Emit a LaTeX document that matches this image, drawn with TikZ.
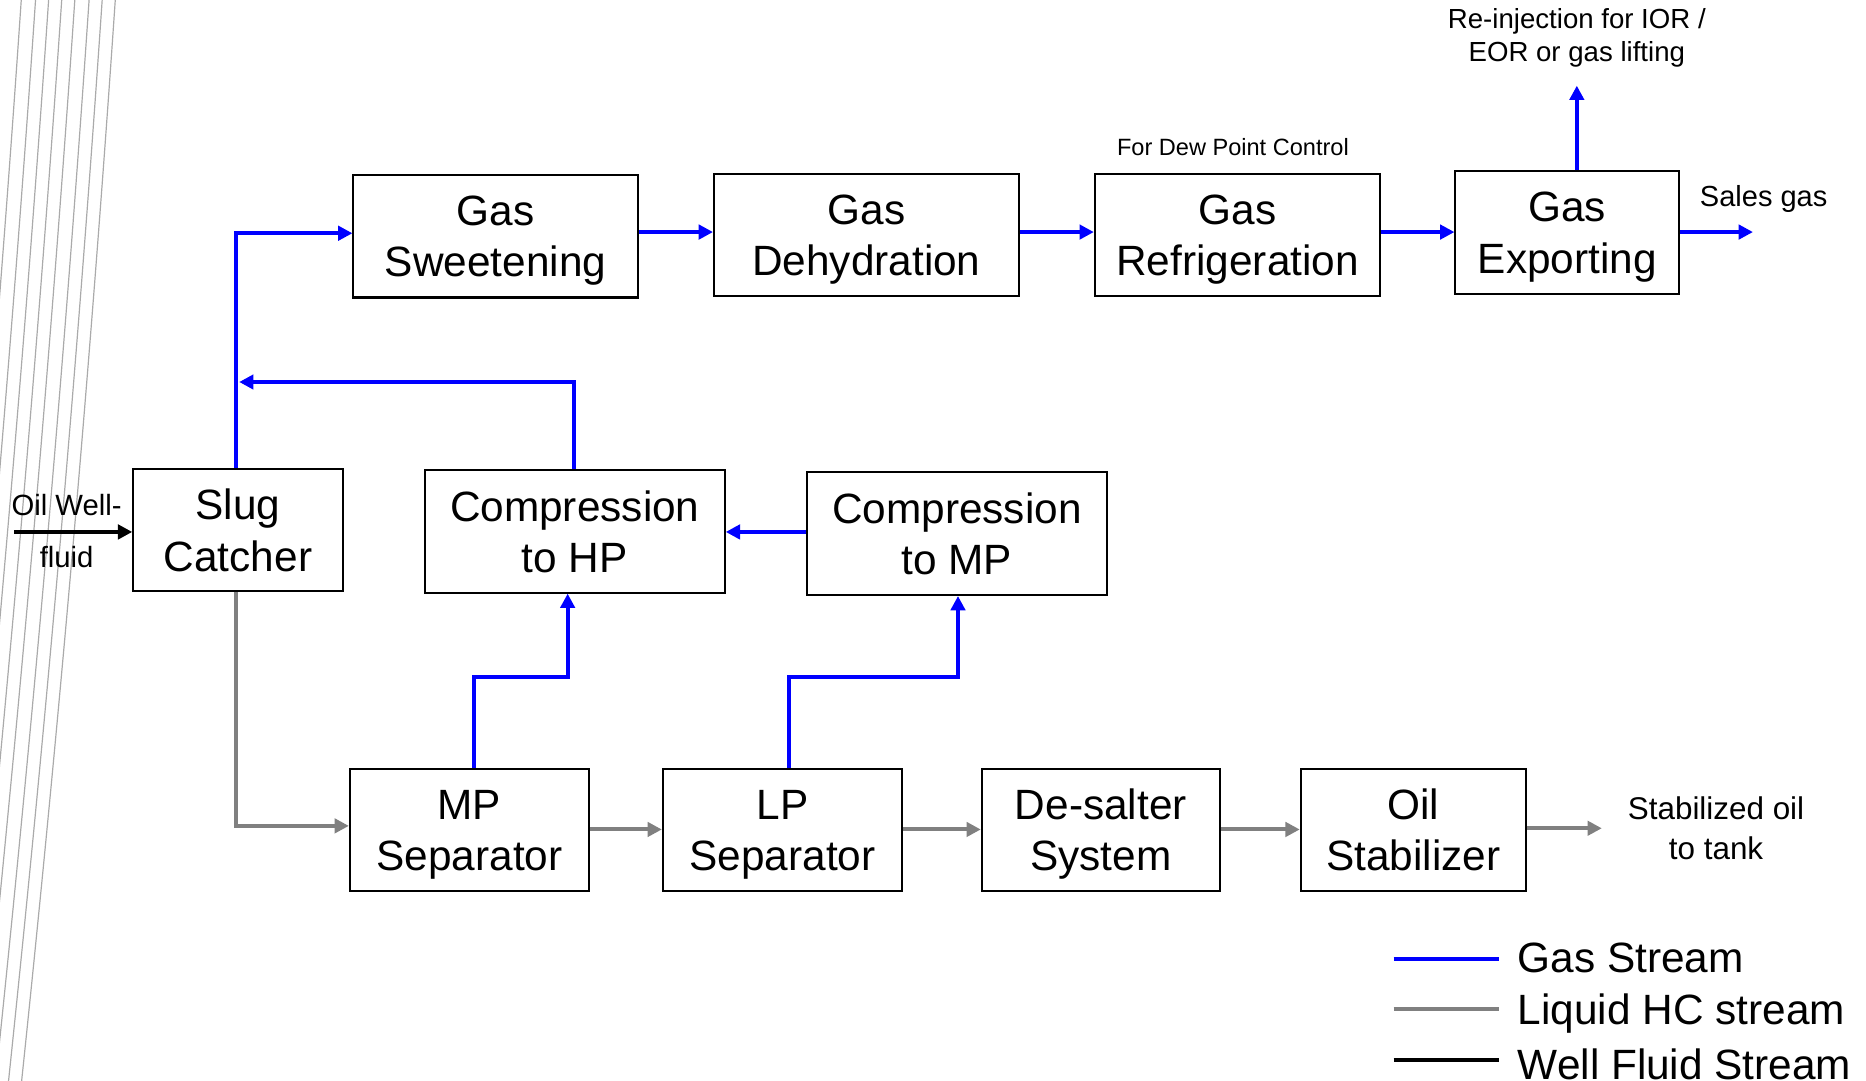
\documentclass[tikz,border=0pt]{standalone}
\usepackage{fontspec}
\setmainfont{Liberation Sans}
\usetikzlibrary{arrows.meta}
\definecolor{gasblue}{RGB}{0,0,255}
\definecolor{liqgray}{RGB}{128,128,128}
\definecolor{decogray}{RGB}{170,170,170}

\begin{document}
\begin{tikzpicture}[x=0.5pt,y=-0.5pt,
  unit/.style={draw=black, line width=0.85pt, inner sep=0pt, align=center,
    minimum height=51.5pt, text depth=0pt, font=\fontsize{17.8}{21.5}\selectfont},
  tip/.style={-{Triangle[length=6pt,width=6pt]}},
  gas/.style={draw=gasblue, line width=1.7pt, tip},
  liquid/.style={draw=liqgray, line width=1.7pt, tip},
  well/.style={draw=black, line width=1.7pt, tip},
  note/.style={inner sep=0pt, align=center},
  legendline/.style={line width=1.7pt},
  legendtext/.style={anchor=base west, inner sep=0pt,
    font=\fontsize{17.8}{21.5}\selectfont}
]
\useasboundingbox (0,0) rectangle (1568,908);
\fill[white] (0,0) rectangle (1568,908);

% thin decorative strokes along the left edge
\begin{scope}
  \clip (0,0) rectangle (1568,908);
  \foreach \d in {0,11,22,34,45,56,67,79}{
    \draw[decogray, line width=0.5pt]
      (97-\d,-2) .. controls (76.3-\d,302.7) and (50-\d,605.3) .. (18-\d,910);
  }
\end{scope}

% process units
\node[unit, minimum width=119.5pt] (sw)  at (416.5,198.5) {Gas\\Sweetening};
\node[unit, minimum width=128pt]   (dh)  at (728,197.5)   {Gas\\Dehydration};
\node[unit, minimum width=120pt]   (rf)  at (1040,197.5)  {Gas\\Refrigeration};
\node[unit, minimum width=94pt]    (ex)  at (1317,195.5)  {Gas\\Exporting};
\node[unit, minimum width=88pt]    (sc)  at (200,445.5)   {Slug\\Catcher};
\node[unit, minimum width=126pt]   (chp) at (483,446.5)   {Compression\\to HP};
\node[unit, minimum width=126pt]   (cmp) at (804,448.5)   {Compression\\to MP};
\node[unit, minimum width=100.5pt] (mp)  at (394.5,697.5) {MP\\Separator};
\node[unit, minimum width=100.5pt] (lp)  at (657.5,697.5) {LP\\Separator};
\node[unit, minimum width=100pt]   (ds)  at (925,697.5)   {De-salter\\System};
\node[unit, minimum width=94.5pt]  (os)  at (1187.5,697.5) {Oil\\Stabilizer};

% free labels
\node[note, font=\fontsize{12.3}{14}\selectfont] (owl) at (56,424) {Oil Well-};
\node[note, font=\fontsize{12.3}{14}\selectfont] (owf) at (56,468) {fluid};
\node[note, font=\fontsize{9.9}{12}\selectfont] (dew) at (1036,124) {For Dew Point Control};
\node[note, font=\fontsize{11.6}{13.8}\selectfont] (rei) at (1325,32)
  {Re-injection for IOR /\\EOR or gas lifting};
\node[note, font=\fontsize{12.2}{14}\selectfont] (sal) at (1482,167) {Sales gas};
\node[note, font=\fontsize{13.2}{16.5}\selectfont] (stb) at (1442,696)
  {Stabilized oil\\to tank};

% connector bends and free ends
\coordinate (well) at (12,447);
\coordinate (up1) at (198,196);
\coordinate (ret) at (201,321);
\coordinate (hpt) at (482,321);
\coordinate (reinj) at (1325,72);
\coordinate (sales) at (1473,195);
\coordinate (mpa) at (398,569);
\coordinate (mpb) at (477,569);
\coordinate (lpa) at (663,569);
\coordinate (lpb) at (805,569);
\coordinate (dn1) at (198,694);
\coordinate (tank) at (1346,696);

% well fluid feed
\draw[well] (well) -- (well -| sc.west);

% gas streams
\draw[gas] (sc.north -| up1) -- (up1) -- (up1 -| sw.west);
\draw[gas] (sw.east |- 0,195) -- (dh.west |- 0,195);
\draw[gas] (dh.east |- 0,195) -- (rf.west |- 0,195);
\draw[gas] (rf.east |- 0,195) -- (ex.west |- 0,195);
\draw[gas] (ex.north -| reinj) -- (reinj);
\draw[gas] (ex.east |- sales) -- (sales);
\draw[gas] (chp.north -| hpt) -- (hpt) -- (ret);
\draw[gas] (cmp.west |- 0,447) -- (chp.east |- 0,447);
\draw[gas] (mp.north -| mpa) -- (mpa) -- (mpb) -- (chp.south -| mpb);
\draw[gas] (lp.north -| lpa) -- (lpa) -- (lpb) -- (cmp.south -| lpb);

% liquid hydrocarbon streams
\draw[liquid] (sc.south -| dn1) -- (dn1) -- (dn1 -| mp.west);
\draw[liquid] (mp.east |- 0,697) -- (lp.west |- 0,697);
\draw[liquid] (lp.east |- 0,697) -- (ds.west |- 0,697);
\draw[liquid] (ds.east |- 0,697) -- (os.west |- 0,697);
\draw[liquid] (os.east |- tank) -- (tank);

% legend
\coordinate (lg1a) at (1171,806); \coordinate (lg1b) at (1260,806);
\coordinate (lg2a) at (1171,848); \coordinate (lg2b) at (1260,848);
\coordinate (lg3a) at (1171,891); \coordinate (lg3b) at (1260,891);
\draw[legendline, gasblue] (lg1a) -- (lg1b);
\draw[legendline, liqgray] (lg2a) -- (lg2b);
\draw[legendline, black] (lg3a) -- (lg3b);
\node[legendtext] (lgt1) at (1275,817) {Gas Stream};
\node[legendtext] (lgt2) at (1275,861) {Liquid HC stream};
\node[legendtext] (lgt3) at (1275,907) {Well Fluid Stream};
\end{tikzpicture}
\end{document}
